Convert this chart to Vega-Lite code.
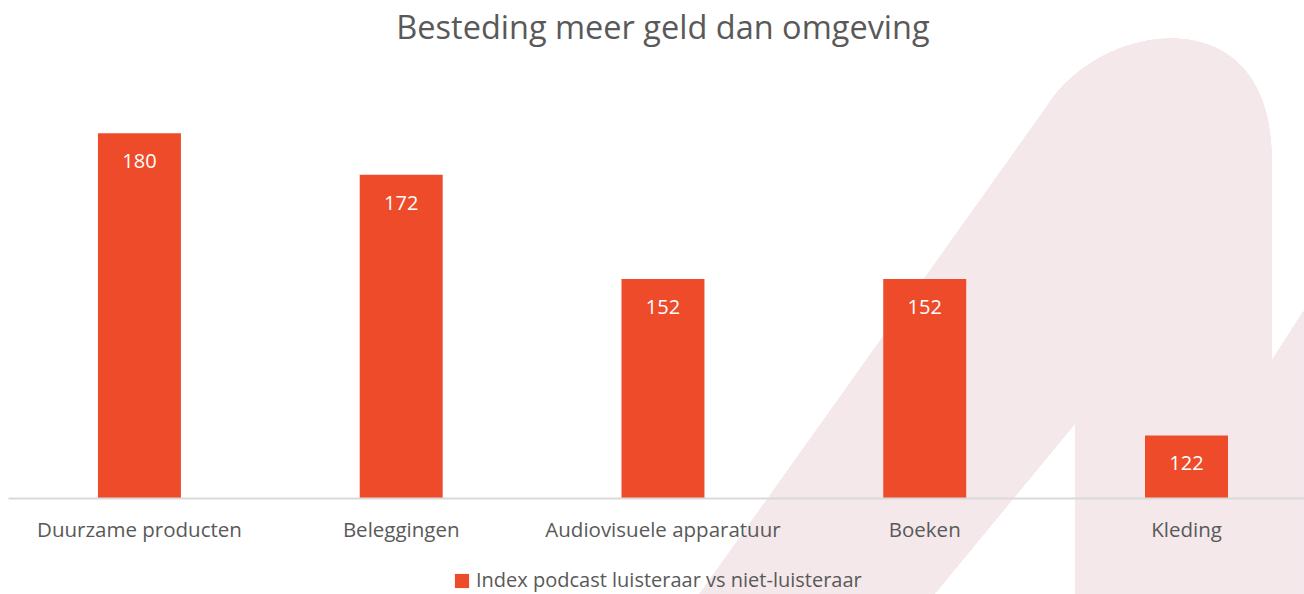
{
  "$schema": "https://vega.github.io/schema/vega-lite/v6.json",
  "width": 1296,
  "height": 417,
  "autosize": {"type": "none"},
  "padding": {"left": 8, "top": 81, "right": 0, "bottom": 96},
  "background": "white",
  "config": {
    "view": {"stroke": null},
    "font": "Open Sans"
  },
  "title": {
    "text": "Besteding meer geld dan omgeving",
    "fontSize": 32.5,
    "fontWeight": "normal",
    "color": "#595959",
    "font": "Open Sans",
    "anchor": "middle",
    "baseline": "bottom",
    "offset": -40,
    "dx": 7
  },
  "data": {
    "values": [
      {"categorie": "Duurzame producten", "index": 180, "serie": "Index podcast luisteraar vs niet-luisteraar"},
      {"categorie": "Beleggingen", "index": 172, "serie": "Index podcast luisteraar vs niet-luisteraar"},
      {"categorie": "Audiovisuele apparatuur", "index": 152, "serie": "Index podcast luisteraar vs niet-luisteraar"},
      {"categorie": "Boeken", "index": 152, "serie": "Index podcast luisteraar vs niet-luisteraar"},
      {"categorie": "Kleding", "index": 122, "serie": "Index podcast luisteraar vs niet-luisteraar"}
    ]
  },
  "encoding": {
    "x": {
      "field": "categorie",
      "type": "nominal",
      "sort": null,
      "scale": {
        "domain": ["Duurzame producten", "Beleggingen", "Audiovisuele apparatuur", "Boeken", "Kleding"],
        "paddingInner": 0.683, "paddingOuter": 0.317, "align": 0.542
      },
      "axis": {
        "title": null,
        "zindex": 1,
        "labelAngle": 0,
        "labelFontSize": 20.5,
        "labelColor": "#595959",
        "labelFont": "Open Sans",
        "labelPadding": 22,
        "labelLimit": 400,
        "labelOverlap": false,
        "ticks": false,
        "domainColor": "#d9d9d9",
        "domainWidth": 2
      }
    },
    "y": {
      "field": "index",
      "type": "quantitative",
      "scale": {"domain": [110, 190], "zero": false},
      "axis": null
    }
  },
  "layer": [
    {
      "mark": {
        "type": "point",
        "filled": true,
        "color": "#F4E8EB",
        "opacity": 1,
        "strokeWidth": 0,
        "size": 360000,
        "shape": "M -1.623 1.015 L -0.4667 -0.6083 C -0.29 -0.8983 0.2833 -0.9817 0.2833 -0.4417 L 0.2833 0.2383 L 0.39 0.0717 L 0.39 1.015 L -0.37 1.015 L -0.37 0.445 L -0.84 1.015 Z"
      },
      "encoding": {
        "x": {"datum": "Kleding"},
        "y": {"datum": 150}
      }
    },
    {
      "mark": {"type": "bar", "clip": true},
      "encoding": {
        "y2": {"datum": 110},
        "color": {
          "field": "serie",
          "type": "nominal",
          "scale": {"range": ["#EE4B2B"]},
          "legend": {
            "title": null,
            "orient": "none",
            "legendX": 444,
            "legendY": 490,
            "zindex": 2,
            "symbolType": "square",
            "symbolSize": 200,
            "symbolStrokeWidth": 0,
            "symbolOpacity": 1,
            "labelFontSize": 20,
            "labelColor": "#595959",
            "labelFont": "Open Sans",
            "labelLimit": 600,
            "labelOffset": 4
          }
        }
      }
    },
    {
      "mark": {"type": "text", "color": "white", "fontSize": 20, "font": "Open Sans", "baseline": "middle", "dy": 29},
      "encoding": {
        "text": {"field": "index", "type": "quantitative"}
      }
    }
  ]
}
